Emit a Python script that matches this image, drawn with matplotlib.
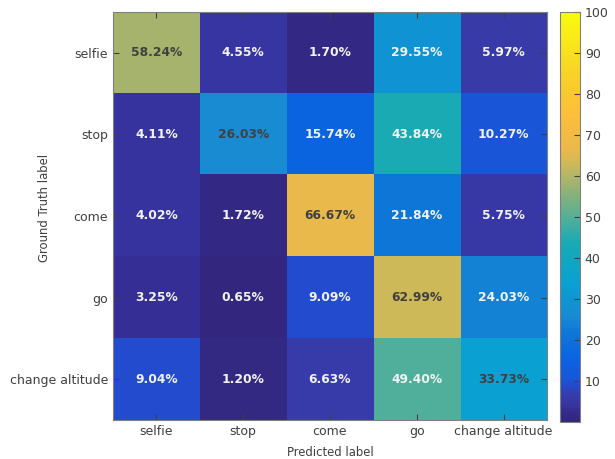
import numpy as np
import matplotlib.pyplot as plt
from matplotlib.colors import LinearSegmentedColormap

labels = ['selfie', 'stop', 'come', 'go', 'change altitude']
row_selfie = [58.24, 4.55, 1.70, 29.55, 5.97]
row_stop = [4.11, 26.03, 15.74, 43.84, 10.27]
row_come = [4.02, 1.72, 66.67, 21.84, 5.75]
row_go = [3.25, 0.65, 9.09, 62.99, 24.03]
row_alt = [9.04, 1.20, 6.63, 49.40, 33.73]

cm = np.array([row_selfie, row_stop, row_come, row_go, row_alt])

# parula-like map, stops picked off the reference colorbar
stops = [
    (0.00, (50, 38, 125)),
    (0.02, (52, 42, 135)),
    (0.04, (55, 52, 160)),
    (0.065, (55, 60, 170)),
    (0.09, (35, 75, 205)),
    (0.10, (25, 85, 215)),
    (0.155, (10, 100, 225)),
    (0.22, (15, 120, 215)),
    (0.26, (25, 140, 210)),
    (0.295, (15, 148, 210)),
    (0.337, (10, 160, 210)),
    (0.438, (25, 170, 180)),
    (0.494, (80, 175, 155)),
    (0.55, (130, 177, 125)),
    (0.582, (163, 179, 111)),
    (0.63, (205, 185, 90)),
    (0.667, (235, 185, 75)),
    (0.75, (252, 190, 60)),
    (0.85, (248, 210, 40)),
    (1.00, (249, 251, 14)),
]
cmap = LinearSegmentedColormap.from_list(
    'parulaish', [(p, tuple(c / 255 for c in rgb)) for p, rgb in stops], N=256)

fig = plt.figure(figsize=(6.15, 4.59), dpi=100)
ax = fig.add_axes([0.1837, 0.085, 0.7057, 0.889])
cax = fig.add_axes([0.9106, 0.0806, 0.0325, 0.893])

im = ax.imshow(cm, cmap=cmap, vmin=0, vmax=100, aspect='auto')

for i in range(5):
    for j in range(5):
        col = '#404040' if i == j else '#f2f2f2'
        ax.text(j, i, '%.2f%%' % cm[i, j], ha='center', va='center',
                fontsize=8.8, fontweight='bold', color=col)

ax.set_xticks(range(5))
ax.set_yticks(range(5))
ax.set_xticklabels(labels)
ax.set_yticklabels(labels)
ax.tick_params(direction='in', top=True, right=True, length=4,
               colors='#404040', labelsize=9, width=0.8)
for s in ax.spines.values():
    s.set_color('#808080')
ax.set_xlabel('Predicted label', fontsize=8.4, color='#404040')
ax.set_ylabel('Ground Truth label', fontsize=8.4, color='#404040')
ax.yaxis.set_label_coords(-0.143, 0.52)
ax.xaxis.set_label_coords(0.5, -0.064)

cb = fig.colorbar(im, cax=cax)
cb.set_ticks(range(10, 101, 10))
cb.ax.tick_params(direction='in', length=4, colors='#404040', labelsize=9)
cb.outline.set_edgecolor('#808080')

fig.savefig('out.png', dpi=100)
